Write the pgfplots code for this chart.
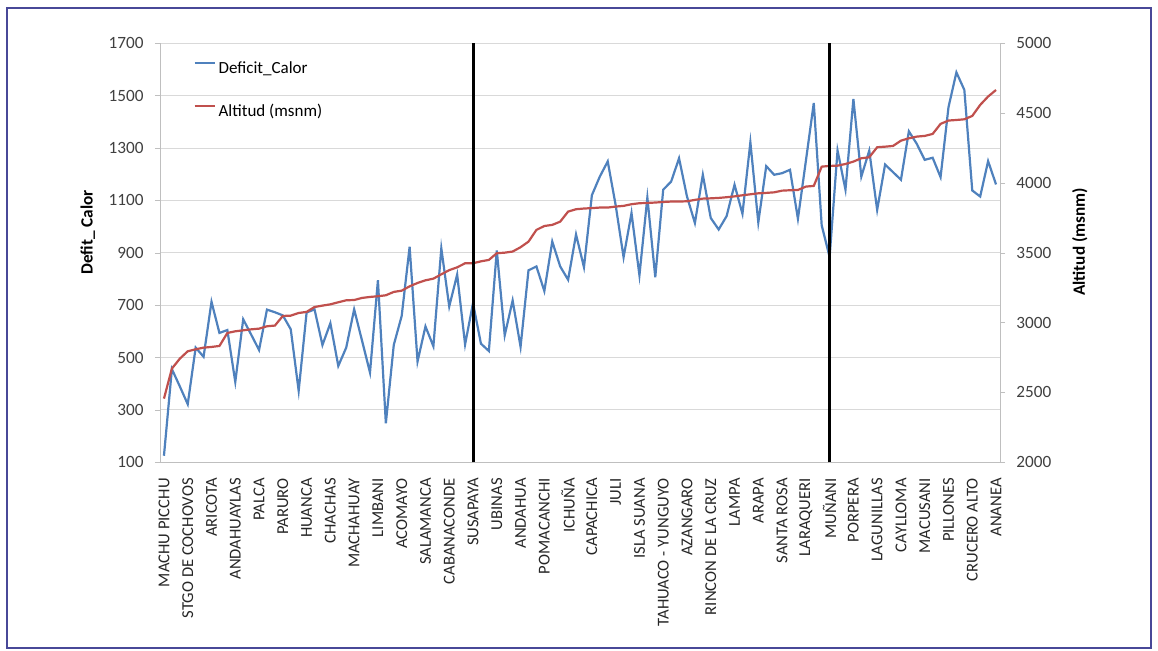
\documentclass[border=0pt]{standalone}
\usepackage{fontspec}
\setmainfont{Carlito}
\usepackage{pgfplots}
\usepackage{pgfplotstable}
\pgfplotsset{compat=1.18}

\definecolor{serieblue}{HTML}{4F81BD}
\definecolor{seriered}{HTML}{C0504D}
\definecolor{gridgray}{HTML}{D9D9D9}
\definecolor{axisgray}{HTML}{BFBFBF}
\definecolor{labelgray}{HTML}{404040}
\definecolor{framecol}{RGB}{72,72,152}

% idx: station order (sorted by altitude); deficit: Deficit_Calor; altitud: m s.n.m.
\pgfplotstableread{
idx deficit altitud
0 125 2456
1 456 2671
2 390 2742
3 322 2795
4 538 2809
5 503 2821
6 713 2826
7 594 2833
8 605 2926
9 407 2938
10 646 2945
11 588 2952
12 529 2957
13 683 2974
14 673 2979
15 661 3048
16 608 3050
17 373 3069
18 672 3077
19 684 3112
20 548 3122
21 631 3131
22 468 3146
23 538 3160
24 684 3162
25 564 3177
26 443 3184
27 795 3189
28 249 3196
29 548 3220
30 659 3229
31 923 3260
32 485 3284
33 619 3303
34 543 3315
35 917 3346
36 695 3376
37 817 3396
38 550 3425
39 708 3425
40 553 3439
41 525 3449
42 909 3497
43 585 3501
44 718 3509
45 541 3540
46 833 3580
47 848 3664
48 754 3692
49 943 3700
50 848 3723
51 797 3795
52 970 3812
53 845 3817
54 1120 3820
55 1191 3824
56 1249 3824
57 1082 3831
58 883 3836
59 1052 3848
60 814 3855
61 1111 3857
62 807 3860
63 1141 3864
64 1172 3867
65 1261 3867
66 1115 3869
67 1014 3879
68 1198 3888
69 1033 3890
70 989 3893
71 1040 3898
72 1160 3904
73 1049 3912
74 1322 3919
75 1016 3926
76 1231 3929
77 1198 3933
78 1204 3945
79 1217 3948
80 1030 3950
81 1250 3974
82 1472 3979
83 1005 4117
84 884 4122
85 1291 4124
86 1141 4136
87 1487 4153
88 1191 4177
89 1290 4184
90 1064 4256
91 1237 4260
92 1208 4265
93 1179 4303
94 1364 4320
95 1316 4332
96 1255 4337
97 1263 4351
98 1189 4423
99 1456 4447
100 1589 4451
101 1522 4456
102 1138 4480
103 1115 4559
104 1250 4619
105 1161 4666
}\estaciones

\pgfplotsset{
  common/.style={
    scale only axis, width=420pt, height=209.5pt,
    xmin=-0.5, xmax=105.5,
    scaled y ticks=false,
    /pgf/number format/assume math mode=true,
    /pgf/number format/1000 sep={},
    tick label style={font=\fontsize{8.6}{10}\selectfont, text=labelgray},
    tick align=outside,
    major tick length=2.5pt,
    label style={font=\fontsize{8.6}{10}\selectfont\bfseries},
  }
}

\begin{document}
\begin{tikzpicture}
% left axis: heat deficit
\begin{axis}[
  common,
  axis lines*=left,
  axis line style={axisgray},
  ymin=100, ymax=1700, ytick={100,300,...,1700},
  ymajorgrids, grid style={gridgray, line width=0.5pt},
  ytick style={axisgray},
  yticklabel style={inner sep=0pt},
  yticklabel shift=5.5pt,
  xtick={0,3,...,105},
  xtick style={draw=none},
  xticklabels={MACHU PICCHU, STGO DE COCHOVOS, ARICOTA, ANDAHUAYLAS, PALCA, PARURO, HUANCA, CHACHAS, MACHAHUAY, LIMBANI, ACOMAYO, SALAMANCA, CABANACONDE, SUSAPAYA, UBINAS, ANDAHUA, POMACANCHI, ICHUÑA, CAPACHICA, JULI, ISLA SUANA, TAHUACO - YUNGUYO, AZANGARO, RINCON DE LA CRUZ, LAMPA, ARAPA, SANTA ROSA, LARAQUERI, MUÑANI, PORPERA, LAGUNILLAS, CAYLLOMA, MACUSANI, PILLONES, CRUCERO ALTO, ANANEA},
  xticklabel style={rotate=90, anchor=east, inner sep=0pt, font=\fontsize{8.3}{10}\selectfont, text=black!85},
  xticklabel shift=5.3pt,
  ylabel={Defit\_ Calor},
  ylabel style={at={(axis description cs:-0.086,0.549)}, anchor=center, rotate=0},
  legend style={draw=none, fill=none, at={(axis description cs:0.0393,0.958)}, anchor=north west,
    inner sep=0pt, row sep=13.5pt, font=\fontsize{8.5}{10}\selectfont,
    nodes={inner sep=0pt, text height=6pt, text depth=2pt, anchor=west}},
  legend cell align=left,
  legend image code/.code={\draw[#1] (0pt,3pt)--(10pt,3pt); \path (11.5pt,3pt);},
]
\addplot[serieblue, line width=1.1pt] table[x=idx, y=deficit]{\estaciones};
\addlegendentry{Deficit\_Calor}
\addlegendimage{seriered, line width=1.1pt}
\addlegendentry{Altitud (msnm)}
\end{axis}

% right axis: altitude
\begin{axis}[
  common,
  axis x line=none,
  axis y line*=right,
  axis line style={axisgray},
  ytick style={axisgray},
  ymin=2000, ymax=5000, ytick={2000,2500,...,5000},
  yticklabel style={inner sep=0pt, anchor=west},
  yticklabel shift=5.5pt,
  ylabel={Altitud (msnm)},
  ylabel style={at={(axis description cs:1.095,0.526)}, anchor=center, rotate=0},
]
\addplot[seriered, line width=1.1pt] table[x=idx, y=altitud]{\estaciones};
% limits between altitude groups
\addplot[black, line width=1.5pt] coordinates {(39,2000) (39,5000)};
\addplot[black, line width=1.5pt] coordinates {(84,2000) (84,5000)};
\end{axis}

\draw[framecol, line width=1pt] (-76.5pt,-92.6pt) rectangle (495.5pt,227.15pt);
\pgfresetboundingbox
\path (-80pt,-93.85pt) rectangle (499pt,231.15pt);
\end{tikzpicture}
\end{document}
